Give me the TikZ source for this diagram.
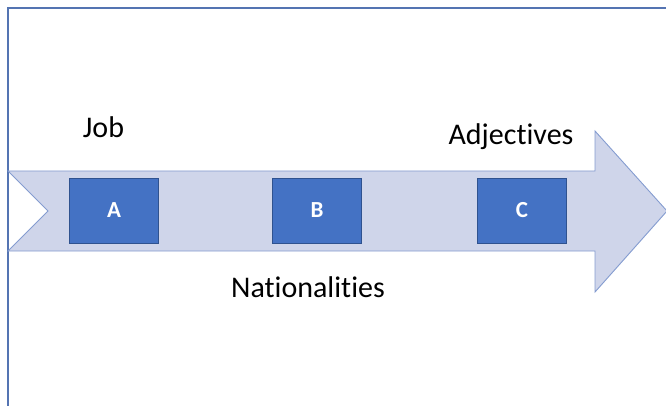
\documentclass[tikz,border=0pt]{standalone}
\usepackage{fontspec}
\setmainfont[Ligatures={NoCommon}]{Carlito}
\definecolor{framecol}{RGB}{84,116,178}
\definecolor{arrowfill}{RGB}{207,213,234}
\definecolor{arrowline}{RGB}{132,156,208}
\definecolor{boxfill}{RGB}{68,114,196}
\definecolor{boxline}{RGB}{47,82,143}
\tikzset{
    letterbox/.style={draw=boxline, fill=boxfill, line width=0.8pt,
        minimum width=89pt, minimum height=65pt, inner sep=0pt,
        text=white, font=\fontsize{23}{27}\selectfont\bfseries},
    label text/.style={anchor=base, inner sep=0pt,
        font=\fontsize{30}{36}\selectfont}
}
\begin{document}
\begin{tikzpicture}[x=1pt, y=-1pt]
        \useasboundingbox (0, 0) rectangle (666, 406);

        % frame
        \draw [framecol, line width=1.8pt] (8, 406) -- (8, 8) -- (666, 8);

        % the big arrow
        \coordinate (tail top) at (8, 171);
        \coordinate (notch) at (48, 211);
        \coordinate (tail bottom) at (8, 251);
        \coordinate (tip) at (667, 211);
        \filldraw [fill=arrowfill, draw=arrowline, line width=0.9pt]
            (tail top) -- (595, 171) -- (595, 131) -- (tip)
            -- (595, 292) -- (595, 251) -- (tail bottom) -- (notch) -- cycle;

        \node [letterbox] (boxA) at (114, 210.5) {A};
        \node [letterbox] (boxB) at (317, 210.5) {B};
        \node [letterbox] (boxC) at (522, 210.5) {C};

        \node [label text] (job) at (103.5, 138) {Job};
        \node [label text] (adjectives) at (511, 145) {Adjectives};
        \node [label text] (nationalities) at (308, 297) {Nationalities};
    \end{tikzpicture}
\end{document}
